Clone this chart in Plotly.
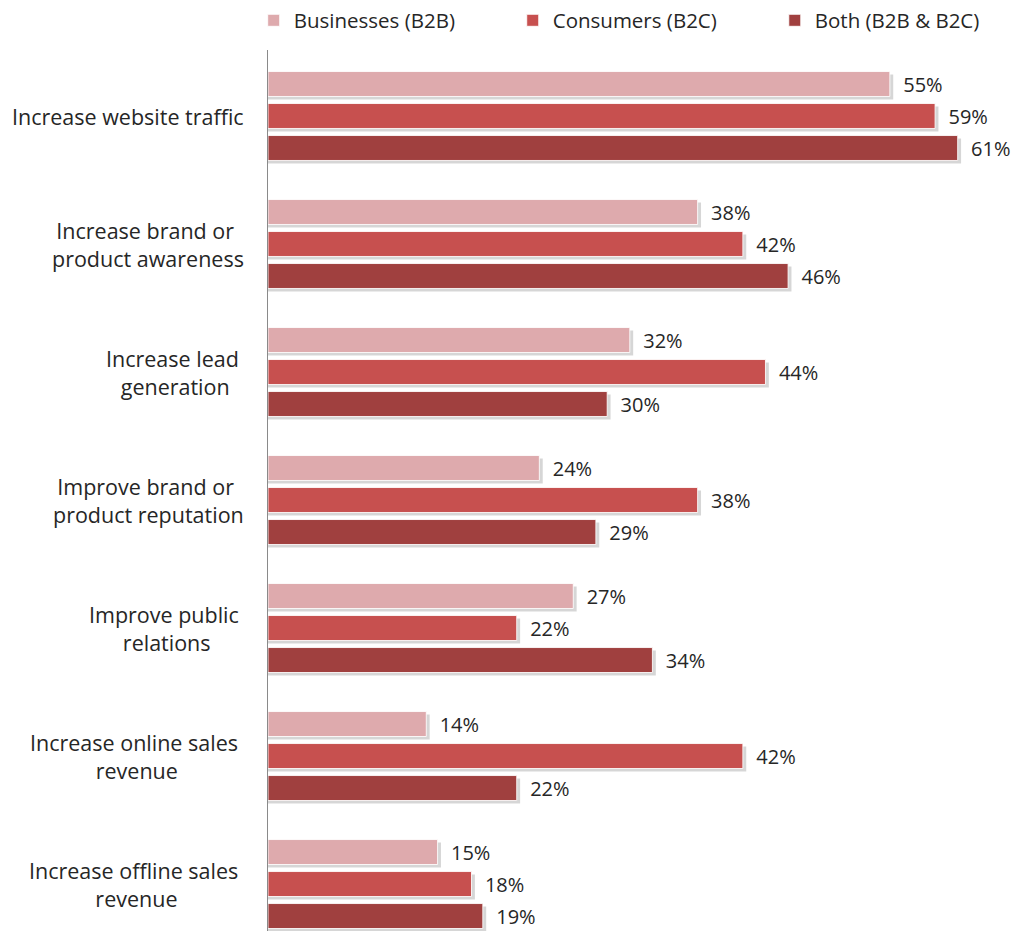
import plotly.graph_objects as go

categories = [
    "Increase website traffic",
    "Increase brand or product awareness",
    "Increase lead generation",
    "Improve brand or product reputation",
    "Improve public relations",
    "Increase online sales revenue",
    "Increase offline sales revenue",
]
category_labels = [
    "Increase website traffic",
    "Increase brand or <br>product awareness",
    "Increase lead <br>generation",
    "Improve brand or <br>product reputation",
    "Improve public <br>relations",
    "Increase online sales <br>revenue",
    "Increase offline sales <br>revenue",
]
series_names = ["Businesses (B2B)", "Consumers (B2C)", "Both (B2B & B2C)"]
b2b = [55, 38, 32, 24, 27, 14, 15]
b2c = [59, 42, 44, 38, 22, 42, 18]
both = [61, 46, 30, 29, 34, 22, 19]
series_values = [b2b, b2c, both]

colors = ["#DEAAAD", "#C7504F", "#A0403F"]
FONT = "Open Sans"
TXT = "#262626"

# geometry in category units (1 category band = 128 px)
bar_w = 0.195
pitch = 0.25
shadow_dy = 0.024
legend_x = [-0.019, 0.325, 0.673]
legend_keys = ["legend", "legend2", "legend3"]

fig = go.Figure()
for i, (name, vals) in enumerate(zip(series_names, series_values)):
    center = (i - 1) * pitch
    off = center - bar_w / 2
    # soft shadow
    fig.add_trace(go.Bar(
        y=categories, x=[v + 0.3 for v in vals], orientation="h",
        width=bar_w, offset=off + shadow_dy,
        marker=dict(color="rgba(0,0,0,0.16)", line=dict(width=0)),
        showlegend=False, hoverinfo="skip",
    ))
    fig.add_trace(go.Bar(
        y=categories, x=vals, orientation="h", name=name,
        width=bar_w, offset=off,
        marker=dict(color=colors[i], line=dict(color="rgba(255,255,255,0.85)", width=1)),
        text=[f"\u00a0\u00a0{v}%" for v in vals],
        textposition="outside", cliponaxis=False, constraintext="none",
        textfont=dict(family=FONT, size=20, color=TXT),
        legend=legend_keys[i],
    ))

annotations = []
for cat, lab in zip(categories, category_labels):
    annotations.append(dict(
        x=-0.029, xref="paper", y=cat, yref="y", text=lab,
        xanchor="right", yanchor="middle", align="center", showarrow=False,
        font=dict(family=FONT, size=21.5, color=TXT),
    ))

legend_common = dict(
    orientation="h", yref="container", y=0.978, yanchor="middle",
    xanchor="left", font=dict(family=FONT, size=20.5, color=TXT),
    bgcolor="rgba(0,0,0,0)", borderwidth=0,
)

fig.update_layout(
    width=1021, height=931,
    margin=dict(l=268, r=0, t=50, b=0, pad=0),
    barmode="overlay",
    plot_bgcolor="white", paper_bgcolor="white",
    xaxis=dict(range=[0, 66.6], visible=False, showgrid=False, zeroline=False),
    yaxis=dict(range=[6.367, -0.5156], showticklabels=False, ticks="",
               showgrid=False, zeroline=False, showline=True,
               linecolor="#8A8A8A", linewidth=1),
    annotations=annotations,
    legend=dict(x=legend_x[0], **legend_common),
    legend2=dict(x=legend_x[1], **legend_common),
    legend3=dict(x=legend_x[2], **legend_common),
    showlegend=True,
)

fig.write_html("out.html")
